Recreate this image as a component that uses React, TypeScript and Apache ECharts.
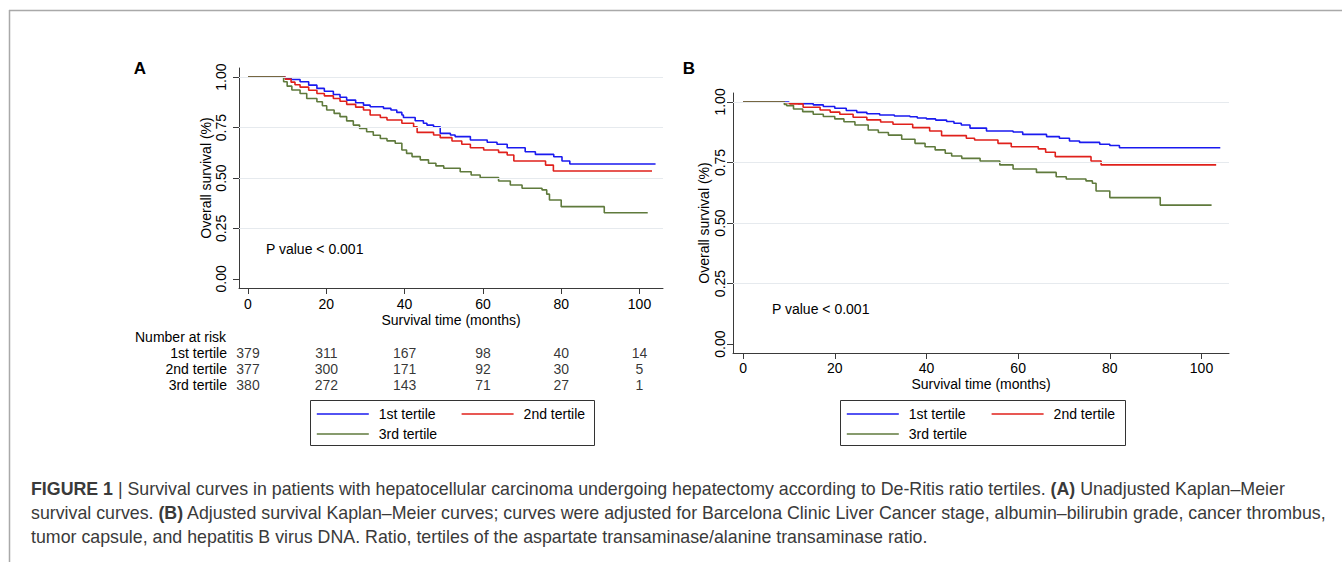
import { useEffect, useRef } from "react";
import * as echarts from "echarts";

const FONT = "'Liberation Sans', Arial, Helvetica, sans-serif";

const seriesNames = ["1st tertile", "2nd tertile", "3rd tertile"];
const seriesColors = ["#1a1aef", "#e0201b", "#5f7a3c"];
const xTicks = [0, 20, 40, 60, 80, 100];
const yTicks = [0, 0.25, 0.5, 0.75, 1];
const gridValues = [0.25, 0.5, 0.75, 1];

// Panel A: unadjusted Kaplan–Meier (time in months, survival)
const unadjusted1st = [
  [0, 1], [9.5, 0.995], [11, 0.988], [13.3, 0.977], [15.5, 0.96], [17.6, 0.944], [19.5, 0.93],
  [21.8, 0.914], [23.5, 0.9], [25.2, 0.886], [27.5, 0.873], [29.5, 0.861], [31.2, 0.853],
  [34.6, 0.845], [36.5, 0.837], [38, 0.825], [39.3, 0.812], [39.7, 0.8], [42.7, 0.784],
  [44.8, 0.771], [45.7, 0.762], [47.4, 0.754], [49.1, 0.721], [51.7, 0.713], [52.9, 0.705],
  [56.8, 0.688], [61.1, 0.677], [63.6, 0.667], [66.2, 0.65], [70.8, 0.63], [73.4, 0.617],
  [78.1, 0.605], [80.2, 0.584], [82.2, 0.569], [104.1, 0.569],
];
const unadjusted2nd = [
  [0, 1], [9.5, 0.99], [11, 0.975], [12, 0.962], [13.3, 0.95], [15.5, 0.935], [17.6, 0.919],
  [19.5, 0.907], [21.8, 0.894], [23.5, 0.88], [25.2, 0.865], [27.5, 0.851], [29.5, 0.837],
  [31.2, 0.812], [33.8, 0.8], [35.5, 0.787], [39.3, 0.771], [42.3, 0.754], [43.2, 0.726],
  [47.4, 0.713], [49.1, 0.7], [52.1, 0.683], [54.6, 0.667], [56.8, 0.65], [60.2, 0.639],
  [64, 0.627], [66.2, 0.614], [67.9, 0.584], [76, 0.564], [78, 0.535], [103.2, 0.535],
];
const unadjusted3rd = [
  [0, 1], [9.1, 0.977], [10, 0.955], [11.2, 0.936], [13.3, 0.919], [15, 0.894], [17.6, 0.878],
  [19, 0.858], [20.1, 0.837], [22, 0.82], [23.5, 0.804], [25.2, 0.783], [26.9, 0.762],
  [28.5, 0.745], [30.3, 0.729], [32, 0.712], [33.8, 0.696], [35.5, 0.684], [37.6, 0.672],
  [39.3, 0.639], [40.5, 0.622], [41.9, 0.606], [44, 0.59], [46.1, 0.573], [48, 0.56],
  [50, 0.548], [54.2, 0.531], [57, 0.515], [59.3, 0.502], [64, 0.485], [67, 0.465],
  [70, 0.449], [75.1, 0.441], [76.3, 0.42], [77, 0.391], [80, 0.358], [91, 0.328], [102.1, 0.328],
];

// Panel B: adjusted Kaplan–Meier
const adjusted1st = [
  [0, 1], [10, 0.997], [12, 0.993], [15.3, 0.988], [17.5, 0.981], [20, 0.974], [22.5, 0.965],
  [24.8, 0.957], [27, 0.951], [29.8, 0.946], [33, 0.942], [36.4, 0.939], [38, 0.934],
  [40, 0.93], [42, 0.925], [44.4, 0.919], [46, 0.912], [47.6, 0.905], [49.5, 0.892],
  [53.1, 0.88], [58.9, 0.876], [61, 0.866], [66.2, 0.857], [69, 0.85], [71.2, 0.839],
  [73.4, 0.833], [77.8, 0.825], [80, 0.82], [82.1, 0.811], [104.1, 0.811],
];
const adjusted2nd = [
  [0, 1], [9, 0.997], [10.2, 0.992], [13.1, 0.978], [16.8, 0.967], [19, 0.958], [21.1, 0.949],
  [24, 0.937], [27, 0.926], [30, 0.917], [32.7, 0.908], [37, 0.894], [40.7, 0.88],
  [43.3, 0.861], [48.7, 0.85], [50.5, 0.843], [55.6, 0.829], [58.5, 0.815], [64.4, 0.806],
  [66, 0.792], [68.1, 0.774], [75.9, 0.756], [78.1, 0.74], [103.2, 0.74],
];
const adjusted3rd = [
  [0, 1], [9, 0.99], [9.5, 0.985], [11, 0.971], [13, 0.96], [15.3, 0.949], [17.5, 0.94],
  [20, 0.93], [22, 0.918], [24.4, 0.905], [27.3, 0.884], [29.5, 0.874], [31.7, 0.863],
  [34.6, 0.846], [37.5, 0.829], [39.7, 0.815], [41.9, 0.802], [44.1, 0.788], [45.5, 0.777],
  [47.7, 0.767], [51.7, 0.756], [56, 0.74], [58.9, 0.723], [64, 0.709], [68.3, 0.691],
  [70.5, 0.682], [74.8, 0.674], [76.2, 0.664], [77, 0.632], [80, 0.605], [91, 0.574], [102.2, 0.574],
];

// Number at risk (panel A)
const riskTimes = [0, 20, 40, 60, 80, 100];
const risk1st = [379, 311, 167, 98, 40, 14];
const risk2nd = [377, 300, 171, 92, 30, 5];
const risk3rd = [380, 272, 143, 71, 27, 1];

const captionLines = [
  "{b|FIGURE 1} | Survival curves in patients with hepatocellular carcinoma undergoing hepatectomy according to De-Ritis ratio tertiles. {b|(A)} Unadjusted Kaplan–Meier",
  "survival curves. {b|(B)} Adjusted survival Kaplan–Meier curves; curves were adjusted for Barcelona Clinic Liver Cancer stage, albumin–bilirubin grade, cancer thrombus,",
  "tumor capsule, and hepatitis B virus DNA. Ratio, tertiles of the aspartate transaminase/alanine transaminase ratio.",
];

function buildOption() {
  const axisColor = "#3a3a3a";
  const makeX = (gridIndex: number, min: number, max: number, nameGap: number, margin: number) => ({
    type: "value",
    gridIndex,
    min,
    max,
    name: "Survival time (months)",
    nameLocation: "middle",
    nameGap,
    nameTextStyle: { fontSize: 14, color: "#000", fontFamily: FONT },
    axisLine: { show: true, onZero: false, lineStyle: { color: axisColor, width: 1 } },
    axisTick: { show: true, length: 6, customValues: xTicks, lineStyle: { color: axisColor } },
    axisLabel: { customValues: xTicks, fontSize: 14, color: "#000", margin, fontFamily: FONT },
    splitLine: { show: false },
  });
  const makeY = (gridIndex: number, min: number, max: number, nameGap: number, margin: number) => ({
    type: "value",
    gridIndex,
    min,
    max,
    name: "Overall survival (%)",
    nameLocation: "middle",
    nameRotate: 90,
    nameGap,
    nameTextStyle: { fontSize: 14, color: "#000", fontFamily: FONT },
    axisLine: { show: true, onZero: false, lineStyle: { color: axisColor, width: 1 } },
    axisTick: { show: true, length: 6, customValues: yTicks, lineStyle: { color: axisColor } },
    axisLabel: {
      customValues: yTicks,
      rotate: 90,
      fontSize: 14,
      color: "#000",
      margin,
      fontFamily: FONT,
      formatter: (v: number) => v.toFixed(2),
    },
    splitLine: { show: false },
  });

  const gridSeries = (axisIndex: number) => ({
    type: "line",
    name: "grid" + axisIndex,
    xAxisIndex: axisIndex,
    yAxisIndex: axisIndex,
    data: [],
    silent: true,
    z: 1,
    markLine: {
      silent: true,
      symbol: ["none", "none"],
      label: { show: false },
      lineStyle: { color: "#e6eaee", type: "solid", width: 1 },
      data: gridValues.map((v) => ({ yAxis: v })),
    },
  });

  const curve = (axisIndex: number, idx: number, data: number[][]) => ({
    type: "line",
    name: seriesNames[idx],
    xAxisIndex: axisIndex,
    yAxisIndex: axisIndex,
    data,
    step: "end",
    symbol: "none",
    silent: true,
    z: 3,
    lineStyle: { color: seriesColors[idx], width: 1.6 },
    itemStyle: { color: seriesColors[idx] },
  });

  const riskRows = [risk1st, risk2nd, risk3rd];
  const riskData: any[] = [];
  riskRows.forEach((row, i) => {
    row.forEach((v, j) => riskData.push([riskTimes[j], seriesNames[i], v]));
  });

  const legendCommon = {
    top: 407,
    width: 290,
    padding: 0,
    itemWidth: 52,
    itemHeight: 14,
    itemGap: 6,
    selectedMode: false,
    data: seriesNames,
    itemStyle: { opacity: 0 },
    lineStyle: { width: 1.6 },
    textStyle: {
      fontSize: 14,
      color: "#000",
      fontFamily: FONT,
      width: 76,
      lineHeight: 14,
      padding: [0, 0, 0, 5],
    },
  };

  const captionText = (i: number) => ({
    type: "text",
    x: 31,
    y: 489 + i * 24,
    silent: true,
    style: {
      text: captionLines[i],
      fontSize: 17.8,
      fontFamily: FONT,
      fill: "#3a3a3a",
      verticalAlign: "middle",
      rich: {
        b: { fontSize: 17.8, fontFamily: FONT, fontWeight: "bold", fill: "#3a3a3a" },
      },
    },
  });

  return {
    animation: false,
    backgroundColor: "#fff",
    textStyle: { fontFamily: FONT },
    grid: [
      { left: 239, top: 68, width: 424, height: 220 },
      { left: 733, top: 93, width: 496, height: 260 },
      { left: 239, top: 345, width: 424, height: 48 },
    ],
    xAxis: [
      makeX(0, -2.3, 106, 25, 9),
      makeX(1, -2.2, 106, 24, 8),
      { type: "value", gridIndex: 2, min: -2.3, max: 106, show: false },
    ],
    yAxis: [
      makeY(0, -0.045, 1.045, 20, 11),
      makeY(1, -0.037, 1.037, 22, 6),
      {
        type: "category",
        gridIndex: 2,
        data: seriesNames,
        inverse: true,
        axisLine: { show: false },
        axisTick: { show: false },
        splitLine: { show: false },
        axisLabel: { interval: 0, fontSize: 14, color: "#000", margin: 12, fontFamily: FONT },
      },
    ],
    legend: [
      { ...legendCommon, left: 316 },
      { ...legendCommon, left: 846 },
    ],
    series: [
      gridSeries(0),
      gridSeries(1),
      curve(0, 0, unadjusted1st),
      curve(0, 1, unadjusted2nd),
      curve(0, 2, unadjusted3rd),
      curve(1, 0, adjusted1st),
      curve(1, 1, adjusted2nd),
      curve(1, 2, adjusted3rd),
      {
        type: "scatter",
        name: "risk",
        xAxisIndex: 2,
        yAxisIndex: 2,
        data: riskData,
        symbolSize: 1,
        silent: true,
        itemStyle: { color: "rgba(0,0,0,0)" },
        label: {
          show: true,
          position: "inside",
          fontSize: 14,
          color: "#000",
          fontFamily: FONT,
          formatter: (p: any) => String(p.data[2]),
        },
      },
    ],
    graphic: [
      { type: "line", silent: true, shape: { x1: 9, y1: 10.5, x2: 1342, y2: 10.5 }, style: { stroke: "#a9a9a9", lineWidth: 1.5 } },
      { type: "line", silent: true, shape: { x1: 9.5, y1: 10, x2: 9.5, y2: 562 }, style: { stroke: "#a9a9a9", lineWidth: 1.5 } },
      { type: "text", x: 140, y: 68, silent: true, style: { text: "A", fontSize: 17, fontWeight: "bold", fontFamily: FONT, fill: "#000", align: "center", verticalAlign: "middle" } },
      { type: "text", x: 689, y: 68, silent: true, style: { text: "B", fontSize: 17, fontWeight: "bold", fontFamily: FONT, fill: "#000", align: "center", verticalAlign: "middle" } },
      { type: "text", x: 266, y: 249, silent: true, style: { text: "P value < 0.001", fontSize: 14, fontFamily: FONT, fill: "#000", verticalAlign: "middle" } },
      { type: "text", x: 772, y: 309, silent: true, style: { text: "P value < 0.001", fontSize: 14, fontFamily: FONT, fill: "#000", verticalAlign: "middle" } },
      { type: "text", x: 135, y: 337, silent: true, style: { text: "Number at risk", fontSize: 14, fontFamily: FONT, fill: "#000", verticalAlign: "middle" } },
      { type: "rect", silent: true, shape: { x: 310.5, y: 400.5, width: 284, height: 45 }, style: { fill: "none", stroke: "#333", lineWidth: 1 } },
      { type: "rect", silent: true, shape: { x: 840.5, y: 400.5, width: 285, height: 45 }, style: { fill: "none", stroke: "#333", lineWidth: 1 } },
      captionText(0),
      captionText(1),
      captionText(2),
    ],
  };
}

export default function App() {
  const ref = useRef<HTMLDivElement>(null);
  useEffect(() => {
    if (!ref.current) return;
    const chart = echarts.init(ref.current, undefined, { renderer: "svg" });
    chart.setOption(buildOption() as any);
    return () => chart.dispose();
  }, []);
  return (
    <div
      ref={ref}
      style={{ position: "absolute", left: 0, top: 0, width: 1342, height: 562, background: "#fff" }}
    />
  );
}
